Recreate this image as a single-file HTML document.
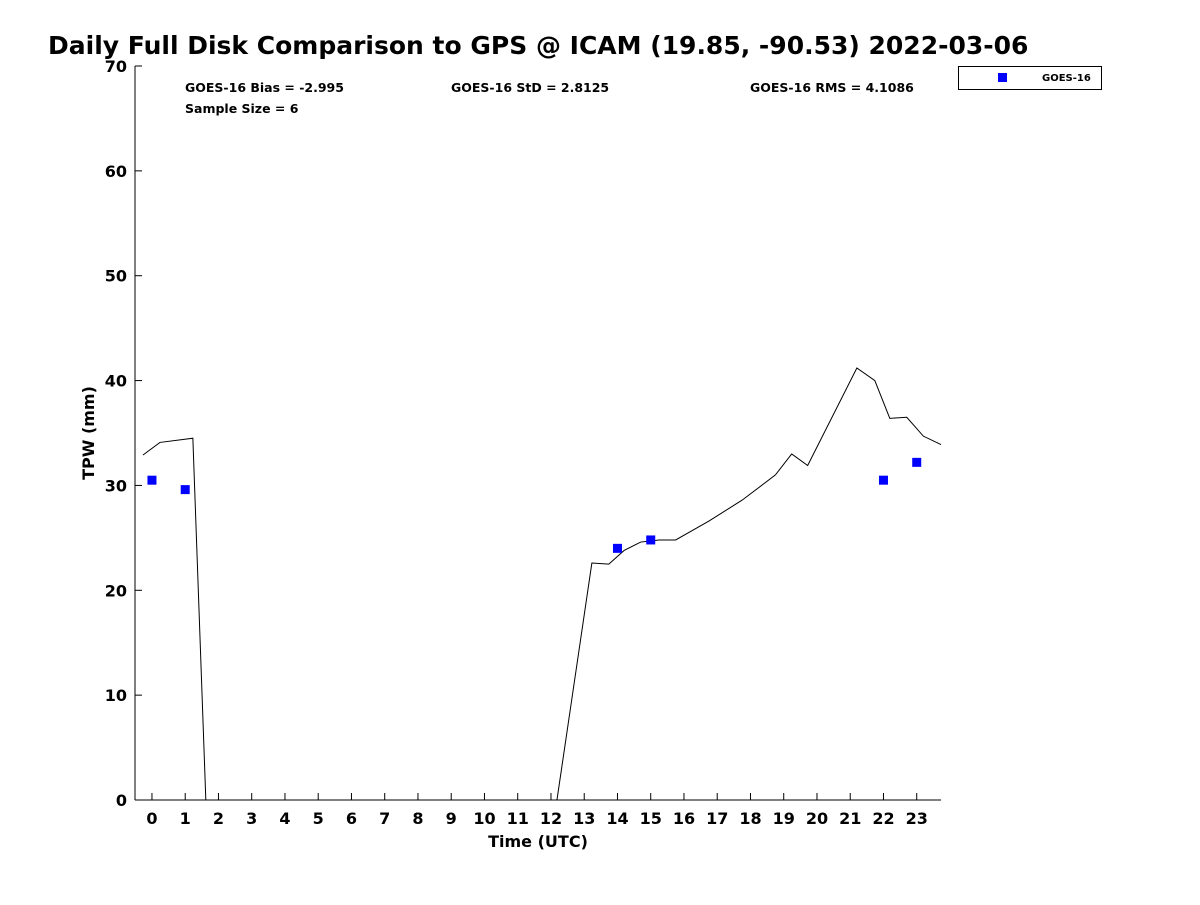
<!DOCTYPE html>
<html><head><meta charset="utf-8"><style>
body{margin:0;background:#fff;width:1200px;height:900px;overflow:hidden;font-family:"Liberation Sans","DejaVu Sans",sans-serif}
</style></head><body>
<svg width="1200" height="900" xmlns="http://www.w3.org/2000/svg">
<rect width="1200" height="900" fill="#fff"/>
<text x="48" y="54" font-size="25" font-weight="bold" font-family="DejaVu Sans,sans-serif">Daily Full Disk Comparison to GPS @ ICAM (19.85, -90.53) 2022-03-06</text>
<g id="axes" font-family="DejaVu Sans,sans-serif" font-weight="bold"></g>
<g id="plot"></g>
<g font-family="DejaVu Sans,sans-serif" font-weight="bold" font-size="12.5">
<text x="185" y="92">GOES-16 Bias = -2.995</text>
<text x="451" y="92">GOES-16 StD = 2.8125</text>
<text x="750" y="92">GOES-16 RMS = 4.1086</text>
<text x="185" y="113">Sample Size = 6</text>
</g>
<g>
<rect x="958.5" y="66.5" width="143" height="23" fill="#fff" stroke="#000" stroke-width="1"/>
<rect x="998" y="73" width="9" height="9" fill="#0000ff"/>
<text x="1042" y="81" font-size="10" font-weight="bold" font-family="DejaVu Sans,sans-serif">GOES-16</text>
</g>
<text x="538" y="847" text-anchor="middle" font-size="16" font-weight="bold" font-family="DejaVu Sans,sans-serif">Time (UTC)</text>
<text transform="translate(94,433) rotate(-90)" text-anchor="middle" font-size="16" font-weight="bold" font-family="DejaVu Sans,sans-serif">TPW (mm)</text>
</svg>
<script>
const gpsHours=[-0.27,0.24,1.23,1.62,12.18,13.23,13.74,14.2,14.7,15.25,15.75,16.75,17.75,18.75,19.24,19.72,21.2,21.74,22.19,22.7,23.2,23.73];
const gpsTpw=[32.9,34.1,34.5,0,0,22.6,22.5,23.8,24.6,24.8,24.8,26.6,28.6,31.0,33.0,31.9,41.2,40.0,36.4,36.5,34.7,33.9];
const goesHours=[0,1,14,15,22,23];
const goesTpw=[30.5,29.6,24.0,24.8,30.5,32.2];
const xTicks=[0,1,2,3,4,5,6,7,8,9,10,11,12,13,14,15,16,17,18,19,20,21,22,23];
const yTicks=[0,10,20,30,40,50,60,70];
const NS="http://www.w3.org/2000/svg";
const X0=135,X1=941,Y0=800,Y1=66;
const xmin=-0.51,xmax=23.73,ymin=0,ymax=70;
const sx=v=>X0+(v-xmin)/(xmax-xmin)*(X1-X0);
const sy=v=>Y0-(v-ymin)/(ymax-ymin)*(Y0-Y1);
function mk(t,a,p){const e=document.createElementNS(NS,t);for(const k in a)e.setAttribute(k,a[k]);p.appendChild(e);return e;}
const ax=document.getElementById('axes'),pl=document.getElementById('plot');
let l=mk('line',{x1:X0,y1:Y0,x2:X1,y2:Y0,stroke:'#000'},ax);


l=mk('line',{x1:X0,y1:Y0,x2:X0,y2:Y1,stroke:'#000'},ax);


xTicks.forEach(t=>{const x=sx(t);
mk('line',{x1:x,y1:Y0,x2:x,y2:Y0-7,stroke:'#000'},ax);
const tx=mk('text',{x:x,y:Y0+24,'text-anchor':'middle','font-size':16},ax);tx.textContent=t;

});
yTicks.forEach(t=>{const y=sy(t);
mk('line',{x1:X0,y1:y,x2:X0+7,y2:y,stroke:'#000'},ax);
const tx=mk('text',{x:X0-8,y:y+6,'text-anchor':'end','font-size':16},ax);tx.textContent=t;

});
const pts=gpsHours.map((h,i)=>sx(h)+','+sy(gpsTpw[i])).join(' ');
const pll=mk('polyline',{points:pts,fill:'none',stroke:'#000','stroke-width':1},pl);


goesHours.forEach((h,i)=>{const r=mk('rect',{x:sx(h)-4.5,y:sy(goesTpw[i])-4.5,width:9,height:9,fill:'#0000ff'},pl);

});
</script>
</body></html>
